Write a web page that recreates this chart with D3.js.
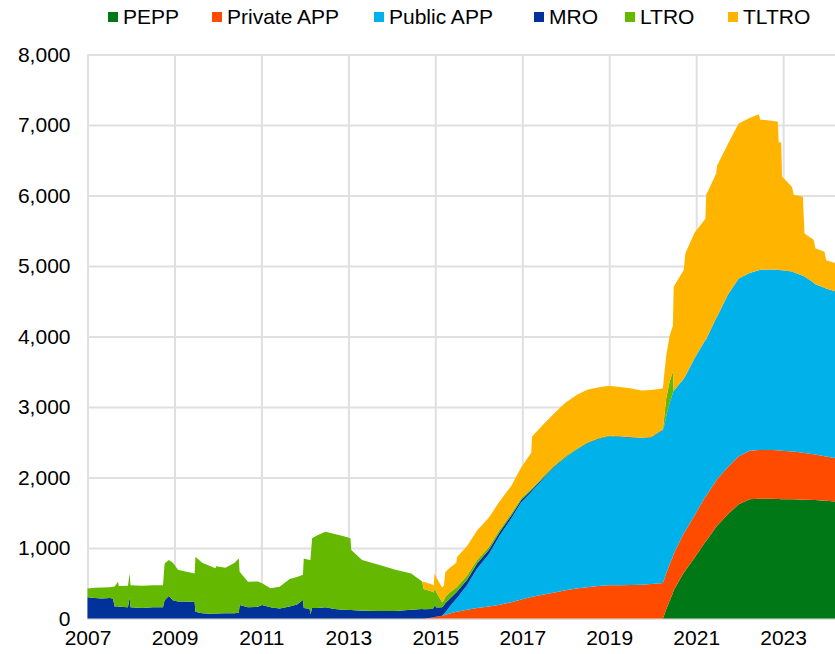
<!DOCTYPE html>
<html>
<head>
<meta charset="utf-8">
<script src="https://cdn.jsdelivr.net/npm/d3@7"></script>
<style>
    body { margin: 0; background: #fff; }
    svg text { font-family: "Liberation Sans", Arial, sans-serif; font-size: 21px; fill: #000; }
</style>
</head>
<body>
<div id="chart"></div>
<script>
// weekly-ish reading points, EUR bn
var dates = [
    "2007-01-01","2007-03-02","2007-05-04","2007-07-06","2007-08-03","2007-08-17","2007-09-14","2007-09-21","2007-12-07","2007-12-21",
    "2007-12-28","2008-04-04","2008-07-04","2008-09-26","2008-10-10","2008-11-14","2008-12-19","2009-01-30","2009-04-03","2009-06-19",
    "2009-06-26","2009-08-21","2009-12-11","2009-12-18","2010-03-05","2010-05-21","2010-06-25","2010-07-02","2010-09-10","2010-12-03",
    "2011-01-07","2011-03-18","2011-06-03","2011-08-26","2011-10-28","2011-12-16","2011-12-23","2012-02-10","2012-02-17","2012-03-02",
    "2012-04-20","2012-06-22","2012-09-07","2012-11-16","2013-01-18","2013-01-25","2013-04-26","2013-09-20","2014-01-31","2014-06-13",
    "2014-09-12",
    "2014-09-26","2014-11-28","2014-12-19","2014-12-26","2015-01-09","2015-02-27","2015-03-13","2015-03-27","2015-05-01",
    "2015-06-26","2015-07-03","2015-09-25","2015-12-18","2016-03-25","2016-06-24","2016-09-30","2016-12-23","2017-03-17","2017-03-24",
    "2017-06-30","2017-09-29","2017-12-29","2018-03-30","2018-06-29","2018-09-28","2018-12-28","2019-03-29","2019-06-28","2019-09-27",
    "2019-12-20","2020-03-06","2020-03-27","2020-04-10","2020-04-24","2020-05-22","2020-06-19","2020-06-26","2020-09-18","2020-10-02",
    "2020-12-18","2021-03-19","2021-03-26","2021-06-18","2021-06-25","2021-09-24","2021-12-24","2022-03-25","2022-06-10","2022-06-24",
    "2022-09-30","2022-11-18","2022-11-25","2022-12-16","2022-12-23","2023-03-17","2023-03-31","2023-06-16","2023-06-30","2023-09-15",
    "2023-09-29","2023-12-15","2023-12-29","2024-03-12"
];

var pepp = [
    0,0,0,0,0,0,0,0,0,0,
    0,0,0,0,0,0,0,0,0,0,
    0,0,0,0,0,0,0,0,0,0,
    0,0,0,0,0,0,0,0,0,0,
    0,0,0,0,0,0,0,0,0,0,
    0,
    0,0,0,0,0,0,0,0,0,
    0,0,0,0,0,0,0,0,0,0,
    0,0,0,0,0,0,0,0,0,0,
    0,0,0,60,130,250,360,400,650,680,
    860,1090,1100,1300,1315,1480,1620,1690,1700,1700,
    1700,1695,1695,1693,1693,1690,1690,1685,1685,1680,
    1680,1670,1670,1660
];

var privateApp = [
    0,0,0,0,0,0,0,0,0,0,
    0,0,0,0,0,0,0,0,0,0,
    0,0,0,0,0,0,0,0,0,0,
    0,0,0,0,0,0,0,0,0,0,
    0,0,0,0,0,0,0,0,0,0,
    0,
    0,10,15,20,25,40,45,50,70,
    95,97,125,150,170,195,230,270,305,310,
    340,370,400,425,445,460,470,472,475,480,
    490,500,505,510,512,515,518,520,560,565,
    600,640,642,658,660,670,680,690,690,690,
    690,690,690,688,688,680,678,665,663,650,
    648,630,628,615
];

var publicApp = [
    0,0,0,0,0,0,0,0,0,0,
    0,0,0,0,0,0,0,0,0,0,
    0,0,0,0,0,0,0,0,0,0,
    0,0,0,0,0,0,0,0,0,0,
    0,0,0,0,0,0,0,0,0,0,
    0,
    0,0,0,0,0,0,20,40,95,
    185,195,350,560,740,980,1190,1380,1490,1500,
    1650,1780,1880,1965,2035,2080,2110,2103,2090,2075,
    2075,2150,2165,2180,2228,2285,2322,2310,2190,2195,
    2230,2220,2218,2302,2305,2440,2520,2520,2550,2555,
    2560,2560,2560,2559,2559,2550,2542,2510,2502,2430,
    2412,2390,2382,2365
];

var mro = [
    300,290,285,290,285,170,175,165,160,300,
    160,150,160,160,260,320,260,240,240,235,
    95,75,65,70,75,73,80,190,160,165,
    191,160,142,170,200,262,150,140,60,150,
    150,160,135,125,121,120,110,105,105,125,
    135,
    130,125,135,170,130,120,120,130,110,
    90,90,75,70,60,50,40,30,25,20,
    15,10,5,5,5,5,5,5,5,5,
    5,5,5,5,5,5,2,2,1,1,
    1,1,1,1,1,1,1,1,1,1,
    1,1,1,1,1,1,1,1,1,1,
    1,1,1,1
];

var ltro = [
    125,145,155,155,165,285,345,295,305,340,
    310,315,310,310,520,510,530,450,425,405,
    782,715,647,670,645,717,774,474,362,360,
    309,270,308,390,390,358,700,690,770,988,
    1034,1071,1065,1045,1019,850,720,655,585,515,
    390,
    290,250,220,240,220,70,70,90,90,
    70,70,60,50,40,35,30,25,20,20,
    15,15,15,10,10,10,10,5,5,5,
    5,5,10,150,250,300,300,0,0,0,
    0,0,0,0,0,0,0,0,0,0,
    0,0,0,0,0,0,0,0,0,0,
    0,0,0,0
];

var tltro = [
    0,0,0,0,0,0,0,0,0,0,
    0,0,0,0,0,0,0,0,0,0,
    0,0,0,0,0,0,0,0,0,0,
    0,0,0,0,0,0,0,0,0,0,
    0,0,0,0,0,0,0,0,0,0,
    0,
    100,100,100,210,210,210,210,350,350,
    350,420,420,420,420,400,390,440,510,730,
    740,740,760,760,750,720,705,700,690,670,
    665,600,580,600,600,650,650,1474,1542,1739,
    1780,1720,2050,2050,2140,2140,2200,2200,2210,2130,
    2110,2100,1810,1810,1330,1200,1100,1120,610,610,
    510,510,400,400
];

var seriesNames = ["PEPP", "Private APP", "Public APP", "MRO", "LTRO", "TLTRO"];
var seriesColors = ["#007816", "#ff4b00", "#00b1ea", "#003299", "#65b800", "#ffb400"];
var yTicks = [0, 1000, 2000, 3000, 4000, 5000, 6000, 7000, 8000];
var xTickYears = ["2007", "2009", "2011", "2013", "2015", "2017", "2019", "2021", "2023"];

var width = 835,
    height = 654;

var parseDate = d3.timeParse("%Y-%m-%d");
var parseYear = d3.timeParse("%Y");

var seriesData = [pepp, privateApp, publicApp, mro, ltro, tltro];
var table = dates.map(function (d, i) {
    var row = { date: parseDate(d) };
    seriesNames.forEach(function (name, k) {
        row[name] = seriesData[k][i];
    });
    return row;
});

var x = d3.scaleTime()
    .domain([parseDate("2007-01-01"), parseDate("2024-03-12")])
    .range([87.5, 835]);

var y = d3.scaleLinear()
    .domain([0, 8000])
    .range([618.5, 54.5]);

var svg = d3.select("#chart").append("svg")
    .attr("width", width)
    .attr("height", height);

// grid + tick labels
var yAxis = svg.append("g")
    .attr("transform", "translate(87.5,0)")
    .call(d3.axisLeft(y)
        .tickValues(yTicks)
        .tickSize(-(835 - 87.5))
        .tickPadding(17)
        .tickFormat(d3.format(",")));

var xAxis = svg.append("g")
    .attr("transform", "translate(0,618.5)")
    .call(d3.axisBottom(x)
        .tickValues(xTickYears.map(parseYear))
        .tickSize(-(618.5 - 54.5))
        .tickPadding(12)
        .tickFormat(d3.timeFormat("%Y")));

svg.selectAll(".domain").remove();
svg.selectAll(".tick line")
    .attr("stroke", "#e0e0e0")
    .attr("stroke-width", 2);
svg.selectAll(".tick text")
    .attr("fill", "#000")
    .style("font-size", "21px");

// stacked areas
var stack = d3.stack().keys(seriesNames);
var layers = stack(table);

var area = d3.area()
    .x(function (d) { return x(d.data.date); })
    .y0(function (d) { return y(d[0]); })
    .y1(function (d) { return y(d[1]); });

svg.append("g")
    .selectAll("path")
    .data(layers)
    .enter()
    .append("path")
    .attr("fill", function (d, i) { return seriesColors[i]; })
    .attr("d", area);

// legend
var legendX = [108, 212, 374, 534, 625, 728];
var legend = svg.append("g")
    .selectAll("g")
    .data(seriesNames)
    .enter()
    .append("g")
    .attr("transform", function (d, i) { return "translate(" + legendX[i] + ",0)"; });

legend.append("rect")
    .attr("x", 0)
    .attr("y", 12)
    .attr("width", 10)
    .attr("height", 10)
    .attr("fill", function (d, i) { return seriesColors[i]; });

legend.append("text")
    .attr("x", 15)
    .attr("y", 24)
    .text(function (d) { return d; });
</script>
</body>
</html>
